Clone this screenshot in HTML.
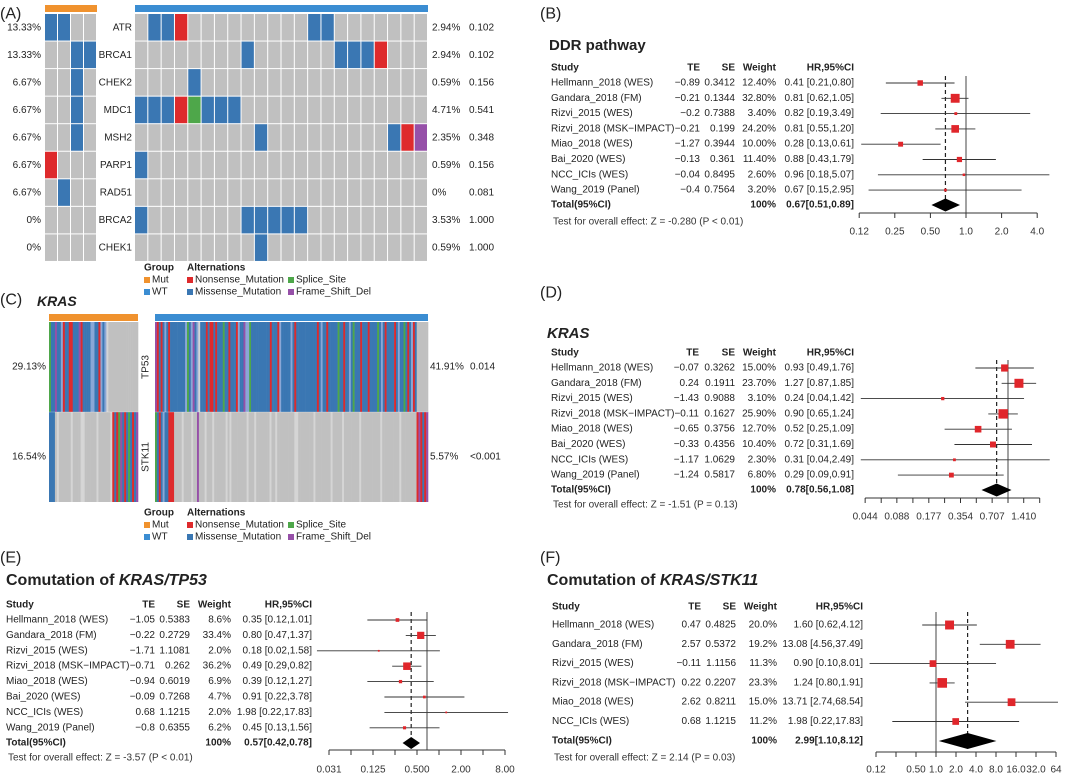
<!DOCTYPE html>
<html><head><meta charset="utf-8">
<style>
html,body{margin:0;padding:0;background:#fff;}
svg{display:block;font-family:"Liberation Sans",Arial,sans-serif;}
</style></head>
<body>
<svg id="fig" width="1080" height="776" viewBox="0 0 1080 776" xmlns="http://www.w3.org/2000/svg"></svg>
<script>
// ---------- Panel A data ----------
const aGenes = ['ATR','BRCA1','CHEK2','MDC1','MSH2','PARP1','RAD51','BRCA2','CHEK1'];
const aLeftPct = ['13.33%','13.33%','6.67%','6.67%','6.67%','6.67%','6.67%','0%','0%'];
const aRightPct = ['2.94%','2.94%','0.59%','4.71%','2.35%','0.59%','0%','3.53%','0.59%'];
const aPvals = ['0.102','0.102','0.156','0.541','0.348','0.156','0.081','1.000','1.000'];
const aLeftCells = ['MMgg','ggMM','ggMg','ggMg','ggMg','Nggg','gMgg','gggg','gggg'];
const aRightCells = [
 'gMMNgggggggggMMggggggg',
 'ggggggggMggggggMMMNggg',
 'ggggMggggggggggggggggg',
 'MMMNSMMMgggggggggggggg',
 'gggggggggMgggggggggMNF',
 'Mggggggggggggggggggggg',
 'gggggggggggggggggggggg',
 'MgggggggMMMMMggggggggg',
 'gggggggggMgggggggggggg'
];
// ---------- Panel C data ----------
const cGenes = ['TP53','STK11'];
const cLeftPct = ['29.13%','16.54%'];
const cRightPct = ['41.91%','5.57%'];
const cPvals = ['0.014','<0.001'];
const cLeftStripes = [
 'SMMFMMLNMMNNMMMFNMMMMLLMMNLMLlggggggggggggggg',
 'MMMglgggggglggggllgggggglgggggglNMNSFMNMSMNMF'
];
const cRightStripes = [
 'FNMNMLMNMMMMMMMMLSMLFMLlMMMNMNNMNMMMSMMNMMMNLMMFLLSMMMMMMMMMMNMMMNLMMMMMLMNMMMMMMMMMMMNMLMMNMMMMMSMMNMMLMSMMMNMMMNMMMMSMLMNMMMMNMLMMSMNMLNMgggggg',
 'SMNMLMMNNNgggglgggglggFggglggglgggggglglgggggggglggglggggggglgglgggggggggllgggggggglgggggggglggggglgggggggglgggggggggglggggggggglggggggggNFNMNF'
];
// ---------- Panel B data ----------
const bStudies = ['Hellmann_2018 (WES)','Gandara_2018 (FM)','Rizvi_2015 (WES)','Rizvi_2018 (MSK\u2212IMPACT)','Miao_2018 (WES)','Bai_2020 (WES)','NCC_ICIs (WES)','Wang_2019 (Panel)'];
const bTE = [-0.89,-0.21,-0.2,-0.21,-1.27,-0.13,-0.04,-0.4];
const bSE = [0.3412,0.1344,0.7388,0.199,0.3944,0.361,0.8495,0.7564];
const bWeight = [12.4,32.8,3.4,24.2,10.0,11.4,2.6,3.2];
const bHR = [0.41,0.81,0.82,0.81,0.28,0.88,0.96,0.67];
const bLo = [0.21,0.62,0.19,0.55,0.13,0.43,0.18,0.15];
const bHi = [0.80,1.05,3.49,1.20,0.61,1.79,5.07,2.95];
const bTotal = [0.67,0.51,0.89];
const bTicks = [0.125,0.25,0.5,1,2,4];
const bTickLabels = ['0.12','0.25','0.50','1.0','2.0','4.0'];
// ---------- Panel D data ----------
const dStudies = ['Hellmann_2018 (WES)','Gandara_2018 (FM)','Rizvi_2015 (WES)','Rizvi_2018 (MSK\u2212IMPACT)','Miao_2018 (WES)','Bai_2020 (WES)','NCC_ICIs (WES)','Wang_2019 (Panel)'];
const dTE = [-0.07,0.24,-1.43,-0.11,-0.65,-0.33,-1.17,-1.24];
const dSE = [0.3262,0.1911,0.9088,0.1627,0.3756,0.4356,1.0629,0.5817];
const dWeight = [15.0,23.7,3.1,25.9,12.7,10.4,2.3,6.8];
const dHR = [0.93,1.27,0.24,0.90,0.52,0.72,0.31,0.29];
const dLo = [0.49,0.87,0.04,0.65,0.25,0.31,0.04,0.09];
const dHi = [1.76,1.85,1.42,1.24,1.09,1.69,2.49,0.91];
const dTotal = [0.78,0.56,1.08];
const dTicks = [0.044,0.0625,0.088,0.125,0.177,0.25,0.354,0.5,0.707,1,1.41,2];
const dTickLabels = ['0.044','','0.088','','0.177','','0.354','','0.707','','1.410',''];
// ---------- Panel E data ----------
const eStudies = ['Hellmann_2018 (WES)','Gandara_2018 (FM)','Rizvi_2015 (WES)','Rizvi_2018 (MSK\u2212IMPACT)','Miao_2018 (WES)','Bai_2020 (WES)','NCC_ICIs (WES)','Wang_2019 (Panel)'];
const eTE = [-1.05,-0.22,-1.71,-0.71,-0.94,-0.09,0.68,-0.8];
const eSE = [0.5383,0.2729,1.1081,0.262,0.6019,0.7268,1.1215,0.6355];
const eWeight = [8.6,33.4,2.0,36.2,6.9,4.7,2.0,6.2];
const eHR = [0.35,0.80,0.18,0.49,0.39,0.91,1.98,0.45];
const eLo = [0.12,0.47,0.02,0.29,0.12,0.22,0.22,0.13];
const eHi = [1.01,1.37,1.58,0.82,1.27,3.78,17.83,1.56];
const eTotal = [0.57,0.42,0.78];
const eTicks = [0.03125,0.0625,0.125,0.25,0.5,1,2,4,8];
const eTickLabels = ['0.031','','0.125','','0.500','','2.00','','8.00'];
// ---------- Panel F data ----------
const fStudies = ['Hellmann_2018 (WES)','Gandara_2018 (FM)','Rizvi_2015 (WES)','Rizvi_2018 (MSK\u2212IMPACT)','Miao_2018 (WES)','NCC_ICIs (WES)'];
const fTE = [0.47,2.57,-0.11,0.22,2.62,0.68];
const fSE = [0.4825,0.5372,1.1156,0.2207,0.8211,1.1215];
const fWeight = [20.0,19.2,11.3,23.3,15.0,11.2];
const fHR = [1.60,13.08,0.90,1.24,13.71,1.98];
const fLo = [0.62,4.56,0.10,0.80,2.74,0.22];
const fHi = [4.12,37.49,8.01,1.91,68.54,17.83];
const fTotal = [2.99,1.10,8.12];
const fTicks = [0.125,0.25,0.5,1,2,4,8,16,32,64];
const fTickLabels = ['0.12','','0.50','1.0','2.0','4.0','8.0','16.0','32.0','64'];

const NS = 'http://www.w3.org/2000/svg';
const svg = document.getElementById('fig');
function mk(tag, attrs, name, parent){
  const el = document.createElementNS(NS, tag);
  for (const k in attrs) el.setAttribute(k, attrs[k]);
  
  
  (parent || svg).appendChild(el);
  return el;
}
function txt(x, y, s, name, o){
  o = o || {};
  const el = mk('text', {x:x, y:y, 'font-size':o.size||10, fill:o.fill||'#222',
    'text-anchor':o.anchor||'start', 'dominant-baseline':'central',
    'font-weight':o.bold?'bold':'normal', 'font-style':o.italic?'italic':'normal'}, name);
  if (o.rot) el.setAttribute('transform', 'rotate(-90 '+x+' '+y+')');
  el.textContent = s;
  return el;
}
const COL = {M:'#3a77b3', N:'#de2a2c', S:'#4ea74a', F:'#9650a8', g:'#c0c0c0', l:'#d5d5d5', L:'#8aa7d6'};

txt(0,14,'(A)','panel-label-a',{size:16});
txt(540,14,'(B)','panel-label-b',{size:16});
txt(0,300,'(C)','panel-label-c',{size:16});
txt(540,293,'(D)','panel-label-d',{size:16});
txt(0,558,'(E)','panel-label-e',{size:16});
txt(540,558,'(F)','panel-label-f',{size:16});

// ---------- Panel A oncoprint ----------
mk('rect',{x:45,y:5,width:52,height:7,fill:'#f0922e'},'mut-group-bar-a');
mk('rect',{x:135,y:5,width:293,height:7,fill:'#3b8dd2'},'wt-group-bar-a');
(function(){
  const y0 = 14, rh = 27.55, lw = 13, rw = 293/22;
  for (let r = 0; r < aGenes.length; r++){
    const yc = y0 + rh*r + rh/2;
    txt(41, yc, aLeftPct[r], 'left-pct-'+aGenes[r], {anchor:'end'});
    txt(132, yc, aGenes[r], 'gene-label-'+aGenes[r], {anchor:'end'});
    txt(432, yc, aRightPct[r], 'right-pct-'+aGenes[r]);
    txt(469, yc, aPvals[r], 'pvalue-'+aGenes[r]);
    for (let c = 0; c < aLeftCells[r].length; c++){
      const ch = aLeftCells[r][c];
      const cell = mk('rect',{x:45+lw*c, y:y0+rh*r, width:lw-1, height:rh-1, fill:COL[ch]}, 'cell');
      
    }
    for (let c = 0; c < aRightCells[r].length; c++){
      const ch = aRightCells[r][c];
      const cell = mk('rect',{x:135+rw*c, y:y0+rh*r, width:rw-1, height:rh-1, fill:COL[ch]}, 'cell');
      
    }
  }
})();

function legend(y0, id){
  txt(144, y0, 'Group', 'legend-group-title-'+id, {bold:true});
  txt(187, y0, 'Alternations', 'legend-alt-title-'+id, {bold:true});
  const items = [[144,y0+12,'#f0922e','Mut'],[144,y0+24,'#3b8dd2','WT'],
    [187,y0+12,COL.N,'Nonsense_Mutation'],[187,y0+24,COL.M,'Missense_Mutation'],
    [288,y0+12,COL.S,'Splice_Site'],[288,y0+24,COL.F,'Frame_Shift_Del']];
  items.forEach(it => {
    mk('rect',{x:it[0],y:it[1]-3,width:6,height:6,fill:it[2]},'legend-swatch-'+it[3]);
    txt(it[0]+8, it[1], it[3], 'legend-entry-'+it[3]);
  });
}
legend(268,'a');

// ---------- Panel C ----------
txt(37,301,'KRAS','title-kras-c',{size:14,bold:true,italic:true});
mk('rect',{x:49,y:314,width:89,height:7,fill:'#f0922e'},'mut-group-bar-c');
mk('rect',{x:155,y:314,width:273,height:7,fill:'#3b8dd2'},'wt-group-bar-c');
(function(){
  const y0 = 322, rh = 90;
  for (let r = 0; r < cGenes.length; r++){
    const yc = y0 + rh*r + rh/2;
    txt(46, yc, cLeftPct[r], 'left-pct-'+cGenes[r], {anchor:'end'});
    txt(146, yc, cGenes[r], 'gene-label-'+cGenes[r], {anchor:'middle', rot:true});
    txt(430, yc, cRightPct[r], 'right-pct-'+cGenes[r]);
    txt(470, yc, cPvals[r], 'pvalue-'+cGenes[r]);
    const L = cLeftStripes[r], sw = 89/L.length;
    for (let i = 0; i < L.length; i++){
      const s = mk('rect',{x:49+sw*i, y:y0+rh*r, width:sw+0.3, height:rh, fill:COL[L[i]]}, 'stripe');
      
    }
    const R = cRightStripes[r], rw = 273/R.length;
    for (let i = 0; i < R.length; i++){
      const s = mk('rect',{x:155+rw*i, y:y0+rh*r, width:rw+0.3, height:rh, fill:COL[R[i]]}, 'stripe');
      
    }
  }
  mk('line',{x1:49,x2:428,y1:412,y2:412,stroke:'#fff','stroke-width':0.6,'stroke-opacity':0.5},'row-divider-c');
})();
legend(513,'c');

// ---------- Forest plots ----------
function fmtNum(v){ return v < 0 ? '\u2212' + String(Math.abs(v)) : String(v); }
function forest(P){
  const xs = v => P.x1 + P.ppd*Math.log2(v);
  const ax = P.axisScale || xs;
  const pre = P.id;
  if (P.titleParts){
    const t = mk('text',{x:P.titleX,y:P.titleY,'font-size':P.titleSize,'font-weight':'bold',fill:'#222','dominant-baseline':'central'},'title-'+pre);
    P.titleParts.forEach(pp => {
      const ts = mk('tspan',{'font-style':pp[1]?'italic':'normal'},'title-span-'+pre,t);
      ts.textContent = pp[0];
    });
  }
  txt(P.studyX, P.headerY, 'Study', 'header-study-'+pre, {bold:true});
  txt(P.teR, P.headerY, 'TE', 'header-te-'+pre, {bold:true, anchor:'end'});
  txt(P.seR, P.headerY, 'SE', 'header-se-'+pre, {bold:true, anchor:'end'});
  txt(P.wR, P.headerY, 'Weight', 'header-weight-'+pre, {bold:true, anchor:'end'});
  txt(P.hrR, P.headerY, 'HR,95%CI', 'header-hr-'+pre, {bold:true, anchor:'end'});
  mk('line',{x1:xs(1),x2:xs(1),y1:P.vTop,y2:P.axisY,stroke:'#444','stroke-width':1},'null-line-'+pre);
  mk('line',{x1:xs(P.total[0]),x2:xs(P.total[0]),y1:P.vTop,y2:P.totalY,stroke:'#222','stroke-width':1.2,'stroke-dasharray':'4,3'},'pooled-line-'+pre);
  for (let i = 0; i < P.studies.length; i++){
    const y = P.row0 + P.step*i;
    txt(P.studyX, y, P.studies[i], 'study-name-'+pre+'-'+i);
    txt(P.teR, y, fmtNum(P.te[i]), 'te-'+pre+'-'+i, {anchor:'end'});
    txt(P.seR, y, String(P.se[i]), 'se-'+pre+'-'+i, {anchor:'end'});
    txt(P.wR, y, P.w[i].toFixed(P.wDec)+'%', 'weight-'+pre+'-'+i, {anchor:'end'});
    txt(P.hrR, y, P.hr[i].toFixed(2)+' ['+P.lo[i].toFixed(2)+','+P.hi[i].toFixed(2)+']', 'hr-ci-'+pre+'-'+i, {anchor:'end'});
    const ci = mk('line',{x1:Math.max(xs(P.lo[i]),P.clipL), x2:Math.min(xs(P.hi[i]),1080), y1:y, y2:y, stroke:'#333','stroke-width':0.9},'ci');
    
    const s = P.sq*Math.sqrt(P.w[i]);
    const sqr = mk('rect',{x:xs(P.hr[i])-s/2, y:y-s/2, width:s, height:s, fill:'#e0262b'},'sq');
    
  }
  txt(P.studyX, P.totalY, 'Total(95%CI)', 'total-label-'+pre, {bold:true});
  txt(P.wR, P.totalY, '100%', 'total-weight-'+pre, {bold:true, anchor:'end'});
  txt(P.hrR, P.totalY, P.total[0].toFixed(2)+'['+P.total[1].toFixed(2)+','+P.total[2].toFixed(2)+']', 'total-hr-'+pre, {bold:true, anchor:'end'});
  const dy = P.totalY, dh = P.dh;
  mk('polygon',{points:[xs(P.total[1])+','+dy, xs(P.total[0])+','+(dy-dh), xs(P.total[2])+','+dy, xs(P.total[0])+','+(dy+dh)].join(' '), fill:'#000'},'pooled-diamond-'+pre);
  txt(P.studyX+2, P.testY, P.testText, 'overall-test-'+pre, {fill:'#333'});
  mk('line',{x1:ax(P.ticks[0]),x2:ax(P.ticks[P.ticks.length-1]),y1:P.axisY,y2:P.axisY,stroke:'#333','stroke-width':1},'x-axis-'+pre);
  for (let i = 0; i < P.ticks.length; i++){
    const x = ax(P.ticks[i]);
    const tk = mk('line',{x1:x,x2:x,y1:P.axisY,y2:P.axisY+5,stroke:'#333','stroke-width':1},'tick');
    
    if (P.tickLabels[i]) txt(x, P.labelY, P.tickLabels[i], 'x-tick-label-'+pre+'-'+i, {anchor:'middle', fill:'#333'});
  }
}

forest({id:'b', titleParts:[['DDR pathway',false]], titleX:549, titleY:45, titleSize:15,
  studies:bStudies, te:bTE, se:bSE, w:bWeight, hr:bHR, lo:bLo, hi:bHi, total:bTotal, wDec:2,
  studyX:551, teR:700, seR:735, wR:776, hrR:854, headerY:68, row0:83, step:15.3, totalY:205, testY:222,
  testText:'Test for overall effect: Z = -0.280 (P < 0.01)', dh:6.5,
  x1:966, ppd:35.6, sq:1.55, vTop:76, axisY:213, labelY:232, clipL:860, ticks:bTicks, tickLabels:bTickLabels});

forest({id:'d', titleParts:[['KRAS',true]], titleX:547, titleY:333, titleSize:15,
  studies:dStudies, te:dTE, se:dSE, w:dWeight, hr:dHR, lo:dLo, hi:dHi, total:dTotal, wDec:2,
  studyX:551, teR:699, seR:735, wR:776, hrR:854, headerY:353, row0:368, step:15.3, totalY:490, testY:505,
  testText:'Test for overall effect: Z = -1.51 (P = 0.13)', dh:6.5,
  x1:1008, ppd:31.7, sq:1.85, vTop:360, axisY:498, labelY:517, clipL:858, ticks:dTicks, tickLabels:dTickLabels});

forest({id:'e', titleParts:[['Comutation of ',false],['KRAS/TP53',true]], titleX:6, titleY:580, titleSize:16,
  studies:eStudies, te:eTE, se:eSE, w:eWeight, hr:eHR, lo:eLo, hi:eHi, total:eTotal, wDec:1,
  studyX:6, teR:155, seR:190, wR:231, hrR:312, headerY:605, row0:620, step:15.4, totalY:743, testY:758,
  testText:'Test for overall effect: Z = -3.57 (P < 0.01)', dh:6,
  x1:427, ppd:19.5, sq:1.25, vTop:612, axisY:750, labelY:770, clipL:316,
  axisScale: v => 329 + 22*Math.log2(v/0.03125), ticks:eTicks, tickLabels:eTickLabels});

forest({id:'f', titleParts:[['Comutation of ',false],['KRAS/STK11',true]], titleX:547, titleY:580, titleSize:16,
  studies:fStudies, te:fTE, se:fSE, w:fWeight, hr:fHR, lo:fLo, hi:fHi, total:fTotal, wDec:1,
  studyX:552, teR:701, seR:736, wR:777, hrR:863, headerY:607, row0:625, step:19.3, totalY:741, testY:758,
  testText:'Test for overall effect: Z = 2.14 (P = 0.03)', dh:8,
  x1:936, ppd:20, sq:2.0, vTop:612, axisY:752, labelY:770, clipL:866, ticks:fTicks, tickLabels:fTickLabels});
</script>
</body></html>
